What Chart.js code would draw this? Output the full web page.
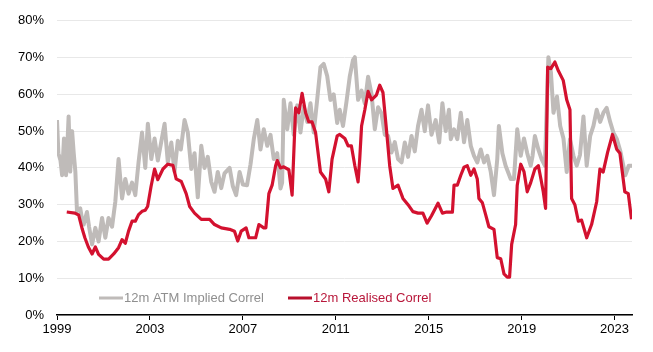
<!DOCTYPE html>
<html>
<head>
<meta charset="utf-8">
<script src="https://cdn.jsdelivr.net/npm/chart.js@4.4.0/dist/chart.umd.min.js"></script>
<style>
  html, body { margin: 0; padding: 0; background: #fff; }
  #wrap { width: 653px; height: 352px; }
</style>
</head>
<body>
<div id="wrap"><canvas id="chart" width="653" height="352"></canvas></div>
<script>
'use strict';

// x axis ticks (years) and y axis ticks (%)
const tickYears = [1999, 2003, 2007, 2011, 2015, 2019, 2023];
const yTicks = [0, 10, 20, 30, 40, 50, 60, 70, 80];

const impliedLabel = '12m ATM Implied Correl';
const realisedLabel = '12m Realised Correl';

// 12m ATM implied correlation
const impliedYears = [
  1999.00, 1999.06, 1999.15, 1999.22, 1999.30, 1999.39, 1999.50, 1999.57, 1999.65, 1999.72,
  1999.79, 1999.86, 2000.00, 2000.08, 2000.15, 2000.29, 2000.38, 2000.51, 2000.65, 2000.79,
  2000.94, 2001.08, 2001.22, 2001.37, 2001.51, 2001.65, 2001.80, 2001.94, 2002.08, 2002.23,
  2002.37, 2002.51, 2002.66, 2002.80, 2002.91, 2003.06, 2003.20, 2003.34, 2003.56, 2003.63,
  2003.77, 2003.92, 2004.06, 2004.20, 2004.33, 2004.49, 2004.63, 2004.78, 2004.92, 2005.06,
  2005.21, 2005.35, 2005.49, 2005.64, 2005.78, 2005.92, 2006.07, 2006.21, 2006.43, 2006.57,
  2006.71, 2006.86, 2007.00, 2007.18, 2007.33, 2007.47, 2007.62, 2007.76, 2007.90, 2008.05,
  2008.19, 2008.33, 2008.48, 2008.62, 2008.69, 2008.76, 2008.91, 2009.05, 2009.19, 2009.34,
  2009.48, 2009.62, 2009.77, 2009.91, 2010.05, 2010.19, 2010.34, 2010.48, 2010.63, 2010.77,
  2010.91, 2011.06, 2011.17, 2011.31, 2011.46, 2011.60, 2011.74, 2011.82, 2011.96, 2012.11,
  2012.25, 2012.39, 2012.54, 2012.68, 2012.82, 2012.97, 2013.11, 2013.25, 2013.40, 2013.54,
  2013.68, 2013.83, 2013.97, 2014.11, 2014.26, 2014.40, 2014.54, 2014.69, 2014.83, 2014.97,
  2015.12, 2015.30, 2015.45, 2015.59, 2015.73, 2015.87, 2015.95, 2016.09, 2016.23, 2016.38,
  2016.52, 2016.66, 2016.81, 2016.95, 2017.09, 2017.24, 2017.38, 2017.52, 2017.67, 2017.81,
  2017.95, 2018.02, 2018.17, 2018.31, 2018.53, 2018.67, 2018.81, 2018.96, 2019.10, 2019.24,
  2019.39, 2019.47, 2019.57, 2019.72, 2019.86, 2020.00, 2020.15, 2020.26, 2020.37, 2020.52,
  2020.66, 2020.80, 2020.94, 2021.08, 2021.23, 2021.37, 2021.51, 2021.66, 2021.80, 2021.95,
  2022.09, 2022.23, 2022.38, 2022.52, 2022.66, 2022.81, 2022.95, 2023.10, 2023.25, 2023.46,
  2023.61, 2023.75
];
const impliedValues = [
  53, 44, 42, 38, 48, 38, 54, 39, 50, 44,
  39, 28.2, 29, 26, 24.6, 28, 24, 19.2, 23.7, 20,
  26.4, 21, 26.4, 24, 30.8, 42.4, 31.7, 37, 33, 36,
  32.6, 41.5, 49.6, 40, 52, 42.4, 48, 42, 49.6, 52,
  41.5, 46.9, 39, 47.4, 45, 53, 49.6, 39.7, 44, 32,
  46, 40, 43, 36.2, 33.5, 38.9, 34.5, 38.5, 40, 35,
  32.6, 38.9, 35.5, 35.3, 41, 47.8, 53, 45, 50.5, 46,
  49, 42.4, 44, 34.4, 36, 58.5, 50.5, 57.6, 49, 57,
  49.6, 56.7, 52.5, 57.6, 49.6, 58, 67.4, 68.3, 65, 58.5,
  60, 52.2, 55.8, 51.4, 58, 64.8, 69.3, 70.1, 58.5, 61,
  57.5, 64.8, 60, 50.5, 56.5, 54.8, 49, 48.7, 44.2, 47,
  42.4, 41.5, 46.9, 43, 48.7, 44.5, 51.4, 55.8, 50, 57,
  49, 53, 46.9, 57.6, 50, 55.8, 47.8, 50.5, 47.8, 55,
  47, 53, 46, 43.3, 41.5, 45, 41.5, 43.3, 38.9, 32.6,
  42.4, 51.4, 44, 40.6, 37, 37, 50.5, 43.3, 48, 44,
  40.6, 43.3, 48.7, 45, 42.4, 40.6, 70.1, 66, 55, 59.4,
  51.4, 48, 38.9, 47.8, 43.3, 40.6, 43.5, 54, 40.6, 48.7,
  51.4, 55.8, 52.5, 55, 56.3, 52.5, 49.6, 47.8, 44.5, 38,
  40.6, 40.6
];

// 12m realised correlation
const realisedYears = [
  1999.42, 1999.77, 1999.93, 2000.08, 2000.20, 2000.35, 2000.51, 2000.65, 2000.79, 2001.01,
  2001.22, 2001.44, 2001.65, 2001.80, 2001.94, 2002.08, 2002.23, 2002.37, 2002.51, 2002.66,
  2002.80, 2002.90, 2003.05, 2003.20, 2003.34, 2003.56, 2003.77, 2003.99, 2004.13, 2004.35,
  2004.56, 2004.71, 2004.92, 2005.21, 2005.57, 2005.78, 2006.07, 2006.43, 2006.64, 2006.78,
  2006.93, 2007.14, 2007.26, 2007.55, 2007.69, 2007.90, 2007.99, 2008.12, 2008.26, 2008.41,
  2008.48, 2008.62, 2008.76, 2008.98, 2009.12, 2009.27, 2009.41, 2009.55, 2009.70, 2009.84,
  2009.98, 2010.13, 2010.34, 2010.56, 2010.70, 2010.84, 2011.06, 2011.17, 2011.39, 2011.53,
  2011.67, 2011.82, 2011.96, 2012.03, 2012.11, 2012.25, 2012.39, 2012.54, 2012.75, 2012.89,
  2013.03, 2013.18, 2013.32, 2013.46, 2013.68, 2013.89, 2014.11, 2014.32, 2014.54, 2014.75,
  2014.93, 2015.12, 2015.40, 2015.59, 2015.77, 2016.02, 2016.09, 2016.23, 2016.38, 2016.52,
  2016.66, 2016.81, 2016.95, 2017.09, 2017.16, 2017.31, 2017.45, 2017.59, 2017.81, 2017.95,
  2018.10, 2018.24, 2018.38, 2018.48, 2018.57, 2018.74, 2018.81, 2018.96, 2019.10, 2019.24,
  2019.39, 2019.57, 2019.72, 2019.83, 2019.93, 2020.03, 2020.12, 2020.26, 2020.43, 2020.58,
  2020.79, 2020.94, 2021.08, 2021.15, 2021.29, 2021.44, 2021.58, 2021.80, 2022.01, 2022.23,
  2022.37, 2022.51, 2022.70, 2022.91, 2023.09, 2023.23, 2023.44, 2023.59, 2023.73
];
const realisedValues = [
  28, 27.7, 27.2, 23.5, 21, 18.5, 16.6, 18.5, 16.5, 15.2,
  15.2, 16.6, 18.3, 20.5, 19.5, 22.8, 25.5, 25.5, 27.3, 28.2,
  28.5, 29.5, 35, 39.7, 36.8, 39.7, 41, 40.7, 37, 36.3,
  33, 29.5, 27.7, 26, 26, 24.6, 23.7, 23.3, 22.8, 20.1,
  22.8, 23.7, 21, 21, 24.6, 23.7, 23.7, 33, 35.3, 40.6,
  42, 40, 40.3, 39.5, 32.6, 56.3, 55, 60.3, 55, 52.5,
  52.5, 49.6, 38.9, 37, 33.5, 42.4, 48.7, 49.1, 48, 46,
  46, 40.6, 36.2, 42.4, 51.4, 55.8, 60.8, 58.5, 59.8, 62.5,
  60.5, 50.5, 40.6, 34.4, 35.3, 31.7, 30, 28.1, 27.7, 27.7,
  25, 27, 30.4, 27.7, 28, 28, 35.3, 35.3, 38, 40.2,
  40.6, 38, 39.7, 37, 31.7, 30.5, 27.3, 24, 23.3, 15.6,
  15.3, 11.2, 10.3, 10.3, 19.2, 24.6, 35.3, 41, 39, 33.5,
  36, 39.7, 40.6, 37, 33.5, 29, 67.4, 67, 68.8, 66.4,
  63.8, 58.5, 55.8, 31.7, 30, 25.5, 25.8, 21, 24.6, 30.8,
  39.7, 38.9, 44.2, 49.1, 45.1, 44, 33.5, 33, 26
];

const greyLine = '#bfbbb9';
const redLine = '#d3112f';

function toPoints(xs, ys) {
  let pts = [];
  for (let i = 0; i < xs.length; i++) {
    pts.push({ x: xs[i], y: ys[i] });
  }
  return pts;
}

// legend sits inside the plot, near the bottom left
const insideLegend = {
  id: 'insideLegend',
  afterDraw(chart) {
    const ctx = chart.ctx;
    const area = chart.chartArea;
    const y = area.bottom - 17;
    const items = [
      { x: area.left + 42, text: impliedLabel, line: greyLine, color: '#8f8f8f' },
      { x: area.left + 231, text: realisedLabel, line: '#b8102d', color: '#b8173a' }
    ];
    ctx.save();
    ctx.font = '13px "Liberation Sans", Arial, sans-serif';
    ctx.textBaseline = 'middle';
    items.forEach(it => {
      ctx.strokeStyle = it.line;
      ctx.lineWidth = 3;
      ctx.beginPath();
      ctx.moveTo(it.x, y);
      ctx.lineTo(it.x + 24, y);
      ctx.stroke();
      ctx.fillStyle = it.color;
      ctx.fillText(it.text, it.x + 25, y);
    });
    ctx.restore();
  }
};

let canvasElem = document.getElementById('chart').getContext('2d');

let myChart = new Chart(canvasElem, {
  type: 'line',
  data: {
    datasets: [
      {
        label: realisedLabel,
        data: toPoints(realisedYears, realisedValues),
        borderColor: redLine,
        borderWidth: 3.2,
        borderJoinStyle: 'round',
        pointRadius: 0,
        tension: 0,
        order: 0
      },
      {
        label: impliedLabel,
        data: toPoints(impliedYears, impliedValues),
        borderColor: greyLine,
        borderWidth: 4,
        borderJoinStyle: 'round',
        pointRadius: 0,
        tension: 0,
        order: 1
      }
    ]
  },
  options: {
    responsive: false,
    animation: false,
    devicePixelRatio: 1,
    layout: { padding: { top: 16, right: 21, bottom: 0, left: 0 } },
    plugins: {
      legend: { display: false },
      tooltip: { enabled: false }
    },
    scales: {
      x: {
        type: 'linear',
        min: 1999,
        max: 2023.75,
        afterBuildTicks: scale => {
          scale.ticks = tickYears.map(v => ({ value: v }));
        },
        afterFit: scale => { scale.height = 37; },
        grid: {
          drawOnChartArea: false,
          drawTicks: true,
          tickLength: 5,
          color: '#000'
        },
        border: { display: true, color: '#000', width: 1.5 },
        ticks: {
          font: { family: '"Liberation Sans", Arial, sans-serif', size: 13 },
          color: '#000',
          padding: 2,
          maxRotation: 0,
          callback: v => String(v)
        }
      },
      y: {
        min: 0,
        max: 80,
        afterBuildTicks: scale => {
          scale.ticks = yTicks.map(v => ({ value: v }));
        },
        afterFit: scale => { scale.width = 57; },
        grid: {
          color: '#e8e8e8',
          lineWidth: 1,
          drawTicks: false
        },
        border: { display: false },
        ticks: {
          font: { family: '"Liberation Sans", Arial, sans-serif', size: 13 },
          color: '#000',
          padding: 13,
          callback: v => v + '%'
        }
      }
    }
  },
  plugins: [insideLegend]
});
</script>
</body>
</html>
